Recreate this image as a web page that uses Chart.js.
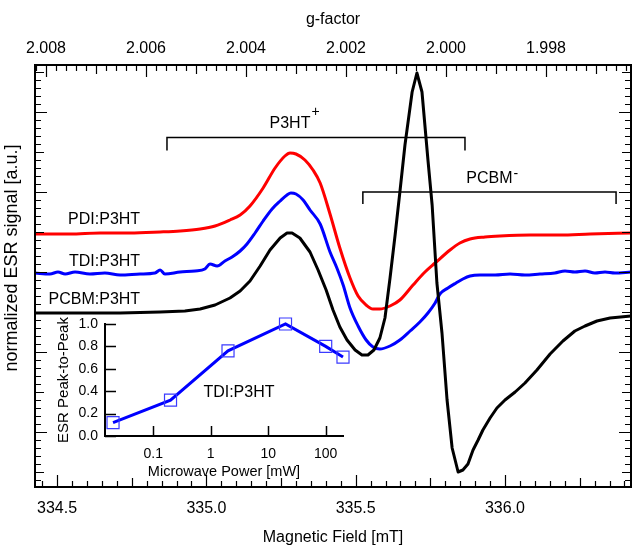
<!DOCTYPE html>
<html>
<head>
    <title>ESR spectra</title>
    <style>
        body {
            margin: 0;
            background: #fff;
        }
        #wrap {
            position: relative;
            width: 633px;
            height: 547px;
        }
        #main, #inset {
            position: absolute;
        }
        #main { left: 0; top: 0; }
        #inset { left: 40px; top: 300px; }
    </style>
    <script src="https://cdn.jsdelivr.net/npm/chart.js"></script>
</head>
<body>
    <div id="wrap">
        <canvas id="main" width="633" height="547"></canvas>
        <canvas id="inset" width="320" height="185"></canvas>
    </div>

    <script>
        // PDI:P3HT (red)
        const pdiField = [334.426, 334.543, 334.644, 334.744, 334.845, 334.912, 334.979, 335.029, 335.079, 335.113,
            335.146, 335.190, 335.230, 335.263, 335.280, 335.300, 335.330, 335.357, 335.381, 335.414,
            335.447, 335.481, 335.508, 335.535, 335.558, 335.581, 335.615, 335.648, 335.692, 335.732,
            335.766, 335.816, 335.849, 335.883, 335.933, 335.983, 336.084, 336.184, 336.285, 336.422];
        const pdiSignal = [49.5, 49.5, 49.75, 49.75, 50, 50.25, 50.75, 51.5, 53, 54.25,
            56.5, 61, 66, 69, 69.75, 69.5, 68, 65.5, 62.25, 54.5,
            46, 38.5, 34, 31.75, 30.75, 30.75, 31.5, 33, 36.75, 40,
            42.25, 45.5, 47.25, 48.25, 48.75, 49, 49.25, 49.25, 49.5, 49.75];

        // TDI:P3HT (blue)
        const tdiField = [334.426, 334.476, 334.503, 334.527, 334.560, 334.610, 334.660, 334.711, 334.778, 334.828,
            334.845, 334.861, 334.912, 334.962, 334.995, 335.012, 335.036, 335.062, 335.086, 335.113,
            335.136, 335.163, 335.190, 335.220, 335.247, 335.270, 335.283, 335.300, 335.324, 335.347,
            335.381, 335.414, 335.437, 335.458, 335.481, 335.508, 335.535, 335.558, 335.581, 335.615,
            335.648, 335.682, 335.715, 335.742, 335.766, 335.782, 335.809, 335.836, 335.859, 335.883,
            335.916, 335.967, 336.017, 336.067, 336.117, 336.167, 336.201, 336.234, 336.268, 336.301,
            336.335, 336.368, 336.422];
        const tdiSignal = [39.75, 39.5, 40, 39.5, 40, 39.5, 39.75, 39.25, 39.5, 39.75,
            40.5, 39.5, 40, 40.25, 40.75, 42, 41.5, 42.75, 43.75, 45.25,
            47, 49.75, 52.75, 55.75, 57.75, 59.25, 59.75, 59.5, 58, 55.5,
            52, 45, 41, 36.75, 31, 26.5, 23, 21.25, 20.75, 21.5,
            23, 25.25, 27.5, 29.75, 32.25, 34.5, 36, 37.25, 38.25, 39,
            39.25, 39.25, 39.5, 39.25, 39.5, 39.75, 40.25, 40, 40.25, 39.75,
            40, 39.75, 40];

        // PCBM:P3HT (black)
        const pcbmField = [334.426, 334.577, 334.711, 334.845, 334.928, 334.979, 335.029, 335.079, 335.113, 335.146,
            335.180, 335.213, 335.247, 335.270, 335.287, 335.313, 335.347, 335.374, 335.401, 335.424,
            335.447, 335.471, 335.498, 335.521, 335.541, 335.561, 335.581, 335.598, 335.615, 335.632,
            335.648, 335.665, 335.689, 335.705, 335.722, 335.742, 335.756, 335.772, 335.789, 335.806,
            335.823, 335.843, 335.859, 335.876, 335.893, 335.910, 335.926, 335.950, 335.973, 336.000,
            336.034, 336.067, 336.107, 336.151, 336.194, 336.234, 336.268, 336.308, 336.352, 336.422];
        const pcbmSignal = [29.75, 29.75, 29.75, 30, 30.25, 30.75, 31.75, 33.5, 35.25, 37.75,
            41.5, 45.5, 48.5, 49.75, 49.75, 48.5, 45, 40.5, 35.5, 30.5,
            26.25, 23, 20.5, 19.25, 19.25, 20.5, 23.5, 28.5, 38.5, 49.25,
            60, 71.75, 85, 89.75, 85, 68, 56.75, 37.25, 24.75, 8,
            -4, -10, -9.5, -8, -4.5, -2, 0.5, 3.5, 6, 8,
            10, 12.25, 15.5, 19.5, 22.75, 25.25, 26.5, 27.75, 28.5, 29];

        const sampleNames = ['PDI:P3HT', 'TDI:P3HT', 'PCBM:P3HT'];

        // inset: peak-to-peak vs microwave power
        const powerMw = [0.02, 0.2, 2, 20, 100, 200];
        const peakToPeak = [0.12, 0.32, 0.76, 1.0, 0.80, 0.705];
        const powerTicks = [0.1, 1, 10, 100];
        const p2pTicks = [0, 0.2, 0.4, 0.6, 0.8, 1.0];

        const FONT = '"Liberation Sans", Arial, Helvetica, sans-serif';
        Chart.defaults.font.family = FONT;
        Chart.defaults.color = '#000';

        function toPoints(xs, ys) {
            return xs.map((v, i) => ({ x: v, y: ys[i] }));
        }

        // text placed in data coordinates of the main plot
        const nameAnchor = { field: 334.778, signals: [53, 42.5, 33] };
        const brackets = [
            { from: 334.868, to: 335.866, level: 73.6, drop: 3.2, text: 'P3HT', sup: '+', field: 335.280, signal: 77.1, supDy: -11 },
            { from: 335.524, to: 336.372, level: 60, drop: 3.0, text: 'PCBM', sup: '-', field: 335.948, signal: 63.25, supDy: -5 }
        ];
        const yTitle = { text: 'normalized ESR signal [a.u.]', x: 12, signal: 43.5 };

        const annotations = {
            id: 'annotations',
            afterDatasetsDraw(chart) {
                const { ctx, scales: { x, y } } = chart;
                ctx.save();
                ctx.fillStyle = '#000';
                ctx.strokeStyle = '#000';
                ctx.lineWidth = 1.5;
                ctx.font = '16px ' + FONT;
                ctx.textAlign = 'right';
                ctx.textBaseline = 'middle';
                sampleNames.forEach((name, i) => {
                    ctx.fillText(name, x.getPixelForValue(nameAnchor.field), y.getPixelForValue(nameAnchor.signals[i]));
                });

                brackets.forEach(b => {
                    const x0 = x.getPixelForValue(b.from);
                    const x1 = x.getPixelForValue(b.to);
                    const yl = y.getPixelForValue(b.level);
                    const yd = y.getPixelForValue(b.level - b.drop);
                    ctx.beginPath();
                    ctx.moveTo(x0, yd);
                    ctx.lineTo(x0, yl);
                    ctx.lineTo(x1, yl);
                    ctx.lineTo(x1, yd);
                    ctx.stroke();

                    const xc = x.getPixelForValue(b.field);
                    const yc = y.getPixelForValue(b.signal);
                    ctx.font = '16px ' + FONT;
                    ctx.textAlign = 'center';
                    ctx.fillText(b.text, xc, yc);
                    const w = ctx.measureText(b.text).width;
                    ctx.font = '14px ' + FONT;
                    ctx.textAlign = 'left';
                    ctx.fillText(b.sup, xc + w / 2 + 1, yc + b.supDy);
                });

                // y axis title
                ctx.save();
                ctx.translate(yTitle.x, y.getPixelForValue(yTitle.signal));
                ctx.rotate(-Math.PI / 2);
                ctx.font = '18px ' + FONT;
                ctx.textAlign = 'center';
                ctx.fillText(yTitle.text, 0, 0);
                ctx.restore();

                ctx.restore();
            }
        };

        // frame with inward ticks on all four sides
        const frameTicks = {
            id: 'frameTicks',
            afterDraw(chart) {
                const { ctx, chartArea: a, scales } = chart;
                const xs = scales.x, gs = scales.g, ys = scales.y;
                ctx.save();
                ctx.strokeStyle = '#000';
                ctx.lineWidth = 1.2;
                ctx.beginPath();

                for (let k = Math.ceil(xs.min / 0.05 - 1e-6); k * 0.05 <= xs.max + 1e-9; k++) {
                    const px = Math.round(xs.getPixelForValue(k * 0.05)) + 0.5;
                    const len = k % 10 === 0 ? 12 : (k % 5 === 0 ? 9 : 6);
                    ctx.moveTo(px, a.bottom);
                    ctx.lineTo(px, a.bottom - len);
                }
                for (let k = Math.ceil(gs.min / 0.0002 - 1e-6); k * 0.0002 <= gs.max + 1e-9; k++) {
                    const px = Math.round(gs.getPixelForValue(k * 0.0002)) + 0.5;
                    const len = k % 10 === 0 ? 12 : (k % 5 === 0 ? 9 : 6);
                    ctx.moveTo(px, a.top);
                    ctx.lineTo(px, a.top + len);
                }
                for (let k = Math.ceil(ys.min / 2); k * 2 <= ys.max; k++) {
                    const v = k * 2;
                    const py = Math.round(ys.getPixelForValue(v)) + 0.5;
                    const len = v % 20 === 0 ? 12 : (v % 10 === 0 ? 9 : 6);
                    ctx.moveTo(a.left, py);
                    ctx.lineTo(a.left + len, py);
                    ctx.moveTo(a.right, py);
                    ctx.lineTo(a.right - len, py);
                }
                ctx.stroke();

                ctx.lineWidth = 2;
                ctx.strokeRect(a.left, a.top, a.right - a.left, a.bottom - a.top);
                ctx.restore();
            }
        };

        new Chart(document.getElementById('main'), {
            type: 'line',
            data: {
                datasets: [
                    { label: 'PCBM:P3HT', data: toPoints(pcbmField, pcbmSignal), borderColor: '#000000', tension: 0 },
                    { label: 'TDI:P3HT', data: toPoints(tdiField, tdiSignal), borderColor: '#0000ff', cubicInterpolationMode: 'monotone' },
                    { label: 'PDI:P3HT', data: toPoints(pdiField, pdiSignal), borderColor: '#ff0000', cubicInterpolationMode: 'monotone' }
                ]
            },
            options: {
                responsive: false,
                animation: false,
                events: [],
                layout: { padding: { left: 0, right: 2, top: 0, bottom: 0 } },
                elements: {
                    point: { radius: 0 },
                    line: { borderWidth: 3, borderJoinStyle: 'round', borderCapStyle: 'round' }
                },
                plugins: {
                    legend: { display: false },
                    tooltip: { enabled: false }
                },
                scales: {
                    x: {
                        type: 'linear',
                        position: 'bottom',
                        min: 334.426,
                        max: 336.422,
                        grid: { display: false, drawTicks: false },
                        border: { display: false },
                        ticks: {
                            stepSize: 0.5,
                            includeBounds: false,
                            padding: 12,
                            maxRotation: 0,
                            font: { size: 16 },
                            callback: v => v.toFixed(1)
                        },
                        title: { display: true, text: 'Magnetic Field [mT]', font: { size: 16 }, padding: { top: 0, bottom: 0 } },
                        afterFit: s => { s.height = 60; }
                    },
                    g: {
                        type: 'linear',
                        axis: 'x',
                        position: 'top',
                        reverse: true,
                        min: 1.99630,
                        max: 2.00822,
                        grid: { display: false, drawTicks: false },
                        border: { display: false },
                        ticks: {
                            stepSize: 0.002,
                            includeBounds: false,
                            padding: 7,
                            maxRotation: 0,
                            font: { size: 16 },
                            callback: v => v.toFixed(3)
                        },
                        title: { display: true, text: 'g-factor', font: { size: 16 }, padding: { top: 10, bottom: 0 } },
                        afterFit: s => { s.height = 65; }
                    },
                    y: {
                        type: 'linear',
                        min: -13.75,
                        max: 91.75,
                        grid: { display: false, drawTicks: false },
                        border: { display: false },
                        ticks: { display: false },
                        title: { display: false },
                        afterFit: s => { s.width = 35; }
                    }
                }
            },
            plugins: [frameTicks, annotations]
        });

        // inset chart
        const insetTicks = {
            id: 'insetTicks',
            afterDraw(chart) {
                const { ctx, chartArea: a, scales: { x, y } } = chart;
                ctx.save();
                ctx.strokeStyle = '#000';
                ctx.lineWidth = 1.5;
                ctx.beginPath();
                p2pTicks.forEach(v => {
                    const py = Math.round(y.getPixelForValue(v)) + 0.5;
                    ctx.moveTo(a.left, py);
                    ctx.lineTo(a.left + 11, py);
                });
                powerTicks.forEach(v => {
                    const px = Math.round(x.getPixelForValue(v)) + 0.5;
                    ctx.moveTo(px, a.bottom);
                    ctx.lineTo(px, a.bottom - 10);
                });
                ctx.stroke();
                ctx.fillStyle = '#000';
                ctx.font = '16px ' + FONT;
                ctx.textAlign = 'center';
                ctx.textBaseline = 'middle';
                ctx.fillText('TDI:P3HT', x.getPixelForValue(3.1), y.getPixelForValue(0.384));
                ctx.restore();
            }
        };

        new Chart(document.getElementById('inset'), {
            type: 'line',
            data: {
                datasets: [{
                    label: 'TDI:P3HT',
                    data: toPoints(powerMw, peakToPeak),
                    borderColor: '#0000ff',
                    borderWidth: 3,
                    pointStyle: 'rect',
                    pointRadius: 8.5,
                    pointBorderWidth: 1.2,
                    pointBorderColor: '#3a3aff',
                    pointBackgroundColor: 'rgba(0,0,0,0)',
                    clip: false,
                    tension: 0
                }]
            },
            options: {
                responsive: false,
                animation: false,
                events: [],
                layout: { padding: { left: 0, right: 17, top: 24, bottom: 0 } },
                plugins: {
                    legend: { display: false },
                    tooltip: { enabled: false }
                },
                scales: {
                    x: {
                        type: 'logarithmic',
                        min: 0.0145,
                        max: 200,
                        grid: { display: false, drawTicks: false },
                        border: { display: true, color: '#000', width: 2 },
                        afterBuildTicks: s => { s.ticks = powerTicks.map(v => ({ value: v })); },
                        ticks: {
                            autoSkip: false,
                            maxRotation: 0,
                            padding: 10,
                            font: { size: 14 },
                            callback: v => String(v)
                        },
                        title: { display: true, text: 'Microwave Power [mW]', font: { size: 14.5 }, padding: { top: 0, bottom: 4 } },
                        afterFit: s => { s.height = 49; }
                    },
                    y: {
                        type: 'linear',
                        min: 0,
                        max: 1,
                        grid: { display: false, drawTicks: false },
                        border: { display: true, color: '#000', width: 2 },
                        ticks: {
                            stepSize: 0.2,
                            padding: 7,
                            font: { size: 14 },
                            callback: v => v.toFixed(1)
                        },
                        title: { display: true, text: 'ESR Peak-to-Peak', font: { size: 15 }, padding: { top: 15, bottom: 0 } },
                        afterFit: s => { s.width = 65; }
                    }
                }
            },
            plugins: [insetTicks]
        });
    </script>
</body>
</html>
